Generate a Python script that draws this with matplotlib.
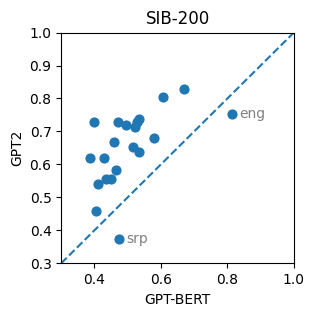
import numpy as np
import matplotlib
matplotlib.use('Agg')
import matplotlib.pyplot as plt

gpt_bert = [0.399, 0.386, 0.429, 0.411, 0.405, 0.435, 0.451, 0.465, 0.459, 0.471,
            0.496, 0.521, 0.529, 0.535, 0.516, 0.535, 0.579, 0.607, 0.670, 0.815, 0.475]
gpt2 = [0.728, 0.619, 0.619, 0.540, 0.458, 0.555, 0.555, 0.582, 0.667, 0.728,
        0.719, 0.712, 0.728, 0.737, 0.653, 0.637, 0.679, 0.804, 0.828, 0.753, 0.373]
labels = {19: 'eng', 20: 'srp'}

fig = plt.figure(figsize=(3.14, 3.16), dpi=100)
ax = fig.add_axes([0.195, 0.167, 0.741, 0.730])
ax.scatter(gpt_bert, gpt2, color='#1f77b4', s=40, zorder=3)
ax.plot([0.3, 1.0], [0.3, 1.0], '--', color='#1f77b4')
for i, lab in labels.items():
    ax.annotate(lab, (gpt_bert[i], gpt2[i]), xytext=(5, 0), textcoords='offset points',
                va='center', ha='left', color='grey', fontsize=10)
ax.set_xlim(0.3, 1.0)
ax.set_ylim(0.3, 1.0)
ax.set_xticks([0.4, 0.6, 0.8, 1.0])
ax.set_xlabel('GPT-BERT')
ax.set_ylabel('GPT2')
ax.set_title('SIB-200')
fig.savefig('out.png', dpi=100)
